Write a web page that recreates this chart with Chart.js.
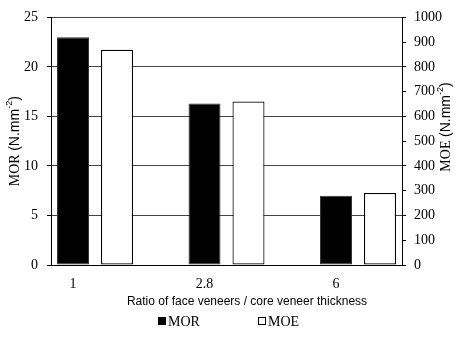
<!DOCTYPE html>
<html>
<head>
<meta charset="utf-8">
<script src="https://cdn.jsdelivr.net/npm/chart.js@4.4.1/dist/chart.umd.min.js"></script>
<style>
  html, body { margin: 0; padding: 0; background: #fff; }
  #wrap { width: 455px; height: 339px; position: relative; }
</style>
</head>
<body>
<div id="wrap"><canvas id="c"></canvas></div>
<script>
// ---- data ----
const categories = ['1', '2.8', '6'];
const morValues = [23.0, 16.3, 7.0];
const moeValues = [869, 660, 291];
const seriesNames = ['MOR', 'MOE'];
const xTitle = 'Ratio of face veneers / core veneer thickness';
const leftTitle = ['MOR', '(N.mm', '-2', ')'];
const rightTitle = ['MOE', '(N.mm', '-2', ')'];

const SERIF = "'Liberation Serif', 'Times New Roman', serif";
const SANS = "'Liberation Sans', Arial, sans-serif";

const X_MIN = -0.3346, X_MAX = 2.3346;

function drawTitle(ctx, parts, cx, cy) {
  const fonts = ['14px ' + SERIF, '14px ' + SANS, '9px ' + SANS, '14px ' + SANS];
  const texts = [parts[0] + ' ', parts[1], parts[2], parts[3]];
  const dys = [0, 0, -5, 0];
  const widths = texts.map((t, i) => { ctx.font = fonts[i]; return ctx.measureText(t).width; });
  const total = widths.reduce((a, b) => a + b, 0);
  ctx.save();
  ctx.translate(cx, cy);
  ctx.rotate(-Math.PI / 2);
  ctx.fillStyle = '#000';
  ctx.textBaseline = 'middle';
  ctx.textAlign = 'left';
  let x = -total / 2;
  texts.forEach((t, i) => { ctx.font = fonts[i]; ctx.fillText(t, x, dys[i]); x += widths[i]; });
  ctx.restore();
}

const titlesPlugin = {
  id: 'titlesPlugin',
  afterDraw(chart) {
    const ctx = chart.ctx;
    const area = chart.chartArea;
    drawTitle(ctx, leftTitle, 15, (area.top + area.bottom) / 2);
    drawTitle(ctx, rightTitle, 446, 127);
    ctx.save();
    ctx.fillStyle = '#000';
    ctx.font = '12px ' + SANS;
    ctx.textAlign = 'center';
    ctx.textBaseline = 'middle';
    ctx.fillText(xTitle, 247, 302);
    // legend
    ctx.font = '14px ' + SERIF;
    ctx.textAlign = 'left';
    const starts = [158, 258];
    chart.data.datasets.forEach((ds, i) => {
      const x = starts[i], y = 321;
      ctx.fillStyle = ds.backgroundColor;
      ctx.fillRect(x, y - 4, 8, 8);
      ctx.strokeStyle = '#000';
      ctx.lineWidth = 1;
      ctx.strokeRect(x + 0.5, y - 3.5, 7, 7);
      ctx.fillStyle = '#000';
      ctx.fillText(ds.label, x + 10, y + 1);
    });
    ctx.restore();
  }
};

new Chart(document.getElementById('c'), {
  type: 'bar',
  data: {
    datasets: [
      {
        label: seriesNames[0],
        data: morValues.map((v, i) => ({ x: i, y: v })),
        yAxisID: 'y',
        backgroundColor: '#000000',
        borderColor: '#333333',
        borderWidth: 1,
        borderSkipped: false
      },
      {
        label: seriesNames[1],
        data: moeValues.map((v, i) => ({ x: i, y: v })),
        yAxisID: 'y1',
        backgroundColor: '#ffffff',
        borderColor: '#000000',
        borderWidth: 1.2,
        borderSkipped: false
      }
    ]
  },
  options: {
    responsive: true,
    maintainAspectRatio: false,
    animation: false,
    devicePixelRatio: 1,
    categoryPercentage: 0.669,
    barPercentage: 0.727,
    layout: { padding: { top: 15, left: 0, right: 0, bottom: 0 } },
    plugins: { legend: { display: false }, tooltip: { enabled: false } },
    scales: {
      x: {
        type: 'linear',
        offset: false,
        min: X_MIN,
        max: X_MAX,
        afterBuildTicks: (axis) => {
          axis.ticks = categories.map((c, i) => ({ value: i }));
          axis.min = X_MIN;
          axis.max = X_MAX;
        },
        afterFit: (axis) => { axis.height = 74; },
        ticks: {
          callback: (value) => categories[value],
          labelOffset: -22,
          padding: 11,
          maxRotation: 0,
          autoSkip: false,
          color: '#000',
          font: { family: SERIF, size: 14 }
        },
        grid: { display: true, offset: false, drawOnChartArea: false, drawTicks: false },
        border: { display: true, color: '#000', width: 1 }
      },
      y: {
        position: 'left',
        min: 0,
        max: 25,
        afterFit: (axis) => { axis.width = 51; },
        ticks: { stepSize: 5, padding: 9, color: '#000', font: { family: SERIF, size: 14 } },
        grid: { color: '#444444', lineWidth: 1, tickLength: 4, tickColor: '#000' },
        border: { display: true, color: '#000', width: 1 }
      },
      y1: {
        position: 'right',
        min: 0,
        max: 1000,
        afterFit: (axis) => { axis.width = 53; },
        ticks: {
          stepSize: 100,
          padding: 8,
          color: '#000',
          font: { family: SERIF, size: 14 },
          callback: (value) => String(value)
        },
        grid: { drawOnChartArea: false, tickLength: 4, tickColor: '#000' },
        border: { display: true, color: '#000', width: 1 }
      }
    }
  },
  plugins: [titlesPlugin]
});
</script>
</body>
</html>
